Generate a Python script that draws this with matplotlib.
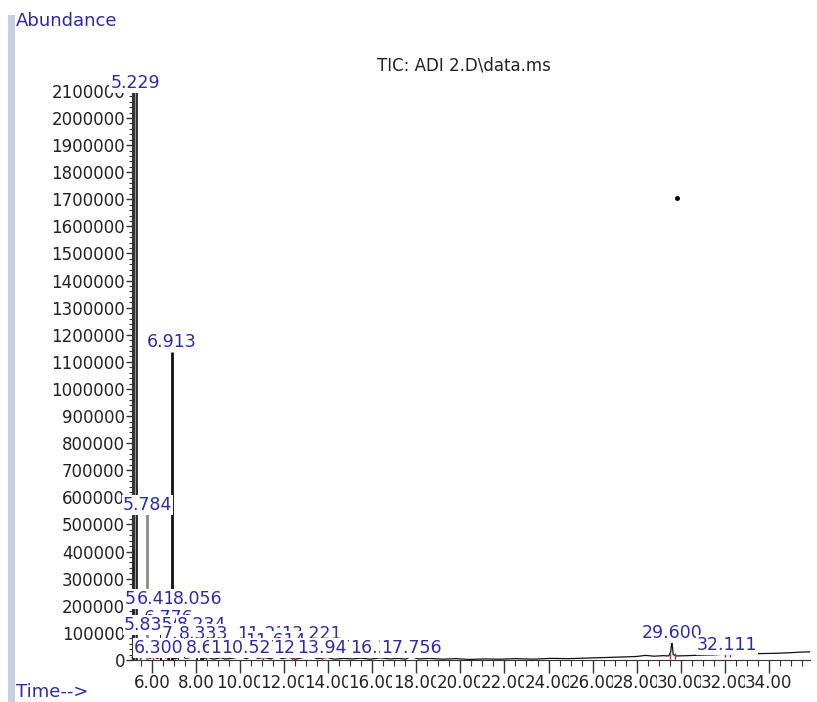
import numpy as np
import matplotlib
matplotlib.use("Agg")
from matplotlib import pyplot as plt
from matplotlib.patches import Rectangle
from matplotlib.ticker import MultipleLocator, FixedLocator


# baseline trace (time in min, abundance)
base_t = [5.10, 5.35, 5.50, 5.65, 5.90, 6.10, 6.25, 6.45, 6.60, 6.85, 7.05, 7.30, 7.55, 7.80,
          8.05, 8.30, 8.55, 8.80, 9.10, 9.40, 9.70, 10.00, 10.30, 10.55, 10.80, 11.10, 11.40,
          11.65, 11.90, 12.20, 12.50, 12.80, 13.20, 13.50, 13.95, 14.30, 14.70, 15.10, 15.50,
          15.90, 16.35, 16.80, 17.20, 17.50, 17.76, 18.10, 18.60, 19.20, 19.80, 20.40, 21.10,
          21.80, 22.50, 23.30, 24.10, 24.90, 25.70, 26.50, 27.30, 28.00, 28.40, 28.80, 29.20,
          29.45, 29.55, 29.60, 29.66, 29.80, 30.30, 30.90, 31.50, 31.95, 32.05, 32.11, 32.20,
          32.60, 33.20, 33.80, 34.40, 35.00, 35.40, 35.85]
base_a = [9000, 16000, 7000, 14000, 6000, 12000, 5000, 15000, 8000, 11000, 4000, 13000, 6000,
          10000, 17000, 5000, 9000, 3000, 8000, 4000, 7000, 12000, 5000, 16000, 6000, 9000, 4000,
          15000, 5000, 10000, 3000, 8000, 14000, 5000, 9000, 3000, 6000, 4000, 7000, 3000, 8000,
          4000, 6000, 3000, 12000, 4000, 6000, 3000, 5000, 2000, 4000, 3000, 5000, 3000, 6000,
          5000, 7000, 9000, 11000, 13000, 17000, 14000, 16000, 15000, 30000, 72000, 20000,
          15000, 16000, 18000, 19000, 21000, 25000, 31000, 23000, 22000, 23000, 24000, 25000,
          27000, 29000, 30000]

# narrow peaks drawn as sticks
peak_t = [5.200, 5.229, 5.265, 5.784, 6.412, 6.776, 6.913, 8.056, 8.234, 8.333]
peak_h = [415000, 2112000, 645000, 545000, 190000, 150000, 1135000, 40000, 30000, 25000]
peak_w = [2.0, 3.4, 1.6, 2.0, 1.4, 1.4, 2.0, 1.2, 1.2, 1.2]
peak_c = ["#111111", "#1a1a1a", "#111111", "#8a8a8a", "#111111", "#111111", "#111111",
          "#111111", "#111111", "#111111"]

# peak labels: text, retention time, label height
lab_text = ["5.229", "6.913", "5.784", "5.872", "6.412", "8.056", "6.776", "5.835", "8.234",
            "7.548", "8.333", "11.235", "13.221", "11.614", "6.300", "8.683", "10.012",
            "10.527", "12.897", "13.947", "16.352", "17.756", "29.600", "32.111"]
lab_t = [5.229, 6.913, 5.784, 5.872, 6.412, 8.056, 6.776, 5.835, 8.234, 7.548, 8.333, 11.235,
         13.221, 11.614, 6.300, 8.683, 10.012, 10.527, 12.897, 13.947, 16.352, 17.756,
         29.600, 32.111]
lab_a = [2128000, 1173000, 572000, 225000, 225000, 225000, 155000, 129000, 129000, 96000,
         96000, 96000, 96000, 70000, 44000, 44000, 44000, 44000, 44000, 44000, 44000, 44000,
         100000, 55000]

stray_t = [29.83]
stray_a = [1705000]

red_t = [5.45, 6.05, 6.70, 7.20, 8.45, 9.25, 11.05, 12.35, 13.70, 29.52, 29.72, 32.02, 32.22]
red_a = [8000, 10000, 9000, 6000, 7000, 5000, 6000, 5000, 7000, 15000, 16000, 22000, 22000]

lab_blue = "#2b2ba8"
txt_dark = "#222222"

fig = plt.figure(figsize=(8.17, 7.02), dpi=100)
fig.patches.append(Rectangle((8 / 817, 0), 7 / 817, 1 - 15 / 702, transform=fig.transFigure,
                             facecolor="#c6d0e2", edgecolor="none"))
fig.text(16 / 817, 1 - 21 / 702, "Abundance", color=lab_blue, fontsize=13, va="center")
fig.text(16 / 817, 1 - 692 / 702, "Time-->", color=lab_blue, fontsize=13, va="center")

ax = fig.add_axes([132 / 817, 1 - 660 / 702, (810 - 132) / 817, (660 - 88) / 702])
ax.set_xlim(5.092, 35.87)
ax.set_ylim(0, 2110700)

ax.plot(base_t, base_a, color="#111111", lw=0.9, zorder=2, clip_on=False)
for t, h, w, c in zip(peak_t, peak_h, peak_w, peak_c):
    ax.vlines(t, 0, h, color=c, lw=w, zorder=2, clip_on=False)
# the main peak is drawn as a hollow stroke, like in the original trace
ax.vlines(peak_t[1], 0, peak_h[1] - 8000, color="#9a9a9a", lw=1.0, zorder=2.1, clip_on=False)
ax.plot(red_t, red_a, ls="none", marker="|", ms=4, mew=1, color="#d02020", zorder=3)
ax.plot(stray_t, stray_a, ls="none", marker="o", ms=2.5, color="black", zorder=3)

for s, t, a in zip(lab_text, lab_t, lab_a):
    ax.text(t, a, s, color=lab_blue, fontsize=12.5, ha="center", va="center", zorder=5,
            clip_on=False,
            bbox=dict(boxstyle="square,pad=0.05", facecolor="white", edgecolor="none"))

ax.text(0.49, 1.04, "TIC: ADI 2.D\\data.ms", transform=ax.transAxes, color=txt_dark,
        fontsize=12, ha="center", va="center")

for side in ["top", "right"]:
    ax.spines[side].set_visible(False)
ax.spines["left"].set_color("#333333")
ax.spines["bottom"].set_color("#333333")

ax.xaxis.set_major_locator(FixedLocator(np.arange(6, 35, 2)))
ax.xaxis.set_minor_locator(MultipleLocator(0.5))
ax.set_xticklabels(["%.2f" % v for v in np.arange(6, 35, 2)])
ax.yaxis.set_major_locator(MultipleLocator(100000))
ax.yaxis.set_minor_locator(MultipleLocator(20000))
ax.set_yticks(np.arange(0, 2100001, 100000))
ax.set_yticklabels(["%d" % v for v in np.arange(0, 2100001, 100000)])
ax.tick_params(axis="x", which="major", length=9, width=1, colors="#333333",
               labelsize=12, labelcolor=txt_dark, pad=1)
ax.tick_params(axis="x", which="minor", length=4, width=0.8, colors="#333333")
ax.tick_params(axis="y", which="major", length=4, width=1, colors="#333333",
               labelsize=12, labelcolor=txt_dark, pad=1)
ax.tick_params(axis="y", which="minor", length=2, width=0.8, colors="#333333")
for lbl in ax.get_xticklabels():
    lbl.set_bbox(dict(boxstyle="square,pad=0.02", facecolor="white", edgecolor="none"))

plt.savefig("out.png", dpi=100)
